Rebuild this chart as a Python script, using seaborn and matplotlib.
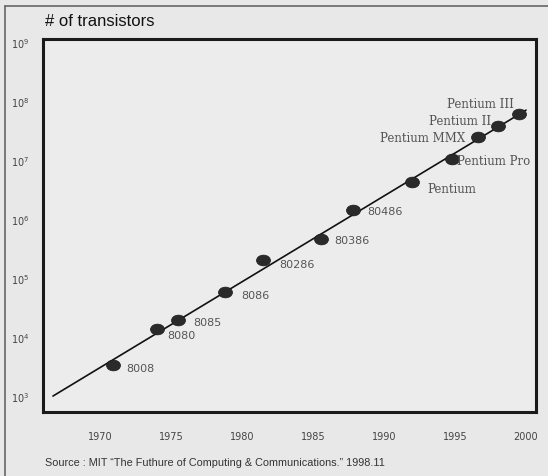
import numpy as np
import pandas as pd
import matplotlib
matplotlib.use("Agg")
import matplotlib.pyplot as plt
import seaborn as sns
from matplotlib.markers import MarkerStyle
from matplotlib.transforms import Affine2D
from matplotlib.lines import Line2D

# chip data
chips = ["8008", "8080", "8085", "8086", "80286", "80386", "80486",
         "Pentium", "Pentium Pro", "Pentium MMX", "Pentium II", "Pentium III"]
years = [1970.9, 1974.0, 1975.5, 1978.8, 1981.5, 1985.6, 1987.8,
         1992.0, 1994.8, 1996.6, 1998.0, 1999.5]
transistors = [3400, 13500, 19500, 57000, 200000, 460000, 1400000,
               4300000, 10400000, 25000000, 38000000, 60000000]

# trend line end points
line_years = [1966.7, 2000.0]
line_values = [1000, 70000000]

x_ticks = [1970, 1975, 1980, 1985, 1990, 1995, 2000]
y_ticks = [1e3, 1e4, 1e5, 1e6, 1e7, 1e8, 1e9]
y_tick_labels = [r"$10^{%d}$" % e for e in range(3, 10)]

# label offsets in pixels (dx, dy, ha)
label_offsets = {
    "8008": (14, -3, "left"), "8080": (11, -6, "left"), "8085": (15, -2, "left"),
    "8086": (16, -3, "left"), "80286": (16, -4, "left"), "80386": (13, -1, "left"),
    "80486": (15, -1, "left"), "Pentium": (15, -7, "left"),
    "Pentium Pro": (5, -2, "left"), "Pentium MMX": (-12, -1, "right"),
    "Pentium II": (-7, 5, "right"), "Pentium III": (-5, 11, "right"),
}

df = pd.DataFrame({"chip": chips, "year": years, "transistors": transistors})
trend = pd.DataFrame({"year": line_years, "transistors": line_values})

sns.set_style("white")
bg = "#e8e8e8"
fig = plt.figure(figsize=(5.48, 4.77), dpi=100, facecolor=bg)
ax = fig.add_axes([43 / 548, 1 - 413 / 477, 493 / 548, 373 / 477])
ax.set_facecolor("#ececec")

sns.lineplot(data=trend, x="year", y="transistors", color="#111111",
             linewidth=1.2, ax=ax)
ellipse = MarkerStyle("o", transform=Affine2D().scale(1.3, 1.0))
sns.scatterplot(data=df, x="year", y="transistors", marker=ellipse, s=60,
                color="#2a2a2a", edgecolor="#1a1a1a", linewidth=0.5,
                zorder=3, ax=ax)

ax.set_yscale("log")
ax.set_xlim(1966.0, 2000.7)
ax.set_ylim(10 ** 2.73, 10 ** 9.05)

for _, row in df.iterrows():
    dx, dy, ha = label_offsets[row["chip"]]
    if row["chip"].startswith("Pentium"):
        fam, fs = "DejaVu Serif", 8.5
    else:
        fam, fs = "DejaVu Sans", 8
    ax.annotate(row["chip"], (row["year"], row["transistors"]),
                xytext=(dx, dy), textcoords="offset pixels", ha=ha, va="center",
                fontsize=fs, color="#555555", family=fam)

ax.set_xticks(x_ticks)
ax.set_xticklabels([str(t) for t in x_ticks], fontsize=7, color="#444444")
ax.set_yticks(y_ticks)
ax.set_yticklabels(y_tick_labels, fontsize=7, color="#444444")
ax.minorticks_off()
ax.tick_params(axis="x", direction="in", length=8, width=1, color="#333333", pad=14)
ax.tick_params(axis="y", direction="in", length=9, width=1, color="#333333", pad=10)
ax.set_xlabel("")
ax.set_ylabel("")
for sp in ax.spines.values():
    sp.set_visible(True)
    sp.set_linewidth(2.2)
    sp.set_color("#1a1a1a")

fig.text(45 / 548, 1 - 21 / 477, "# of transistors", fontsize=12, color="#111111",
         family="Liberation Sans", ha="left", va="center")
fig.text(45 / 548, 1 - 463 / 477,
         "Source : MIT \u201cThe Futhure of Computing & Communications.\u201d 1998.11",
         fontsize=7.8, color="#333333", ha="left", va="center",
         family="Liberation Sans")

# scan edge lines (left and top only)
fig.add_artist(Line2D([5 / 548, 5 / 548], [0, 1 - 7 / 477], transform=fig.transFigure,
                      color="#666666", linewidth=1.2))
fig.add_artist(Line2D([5 / 548, 1], [1 - 7 / 477, 1 - 7 / 477], transform=fig.transFigure,
                      color="#666666", linewidth=1.2))

fig.savefig("out.png", dpi=100, facecolor=bg)
